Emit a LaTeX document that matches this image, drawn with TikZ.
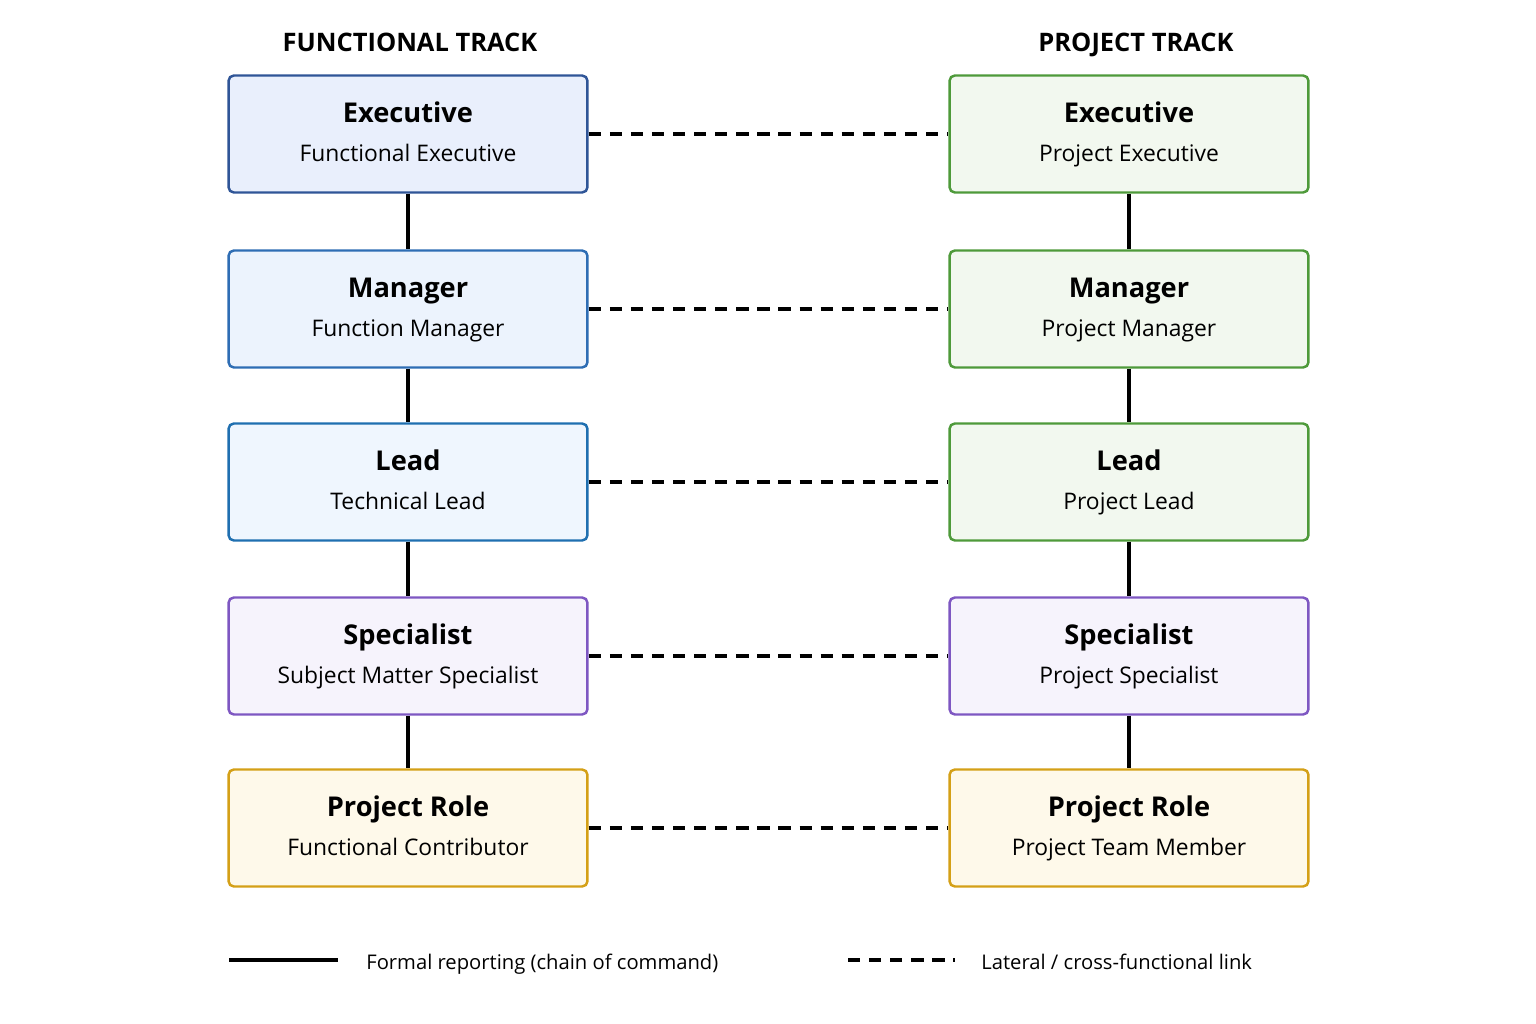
\documentclass[tikz,border=0pt]{standalone}
\usepackage{fontspec}
\setmainfont{Open Sans}
\usetikzlibrary{positioning}
\definecolor{exB}{HTML}{2F5597}\definecolor{exF}{HTML}{E9EFFC}
\definecolor{mgB}{HTML}{2E6DB4}\definecolor{mgF}{HTML}{ECF3FD}
\definecolor{ldB}{HTML}{1F6FB0}\definecolor{ldF}{HTML}{EFF6FE}
\definecolor{spB}{HTML}{7E57C2}\definecolor{spF}{HTML}{F6F3FC}
\definecolor{prB}{HTML}{D4A017}\definecolor{prF}{HTML}{FEF9EA}
\definecolor{gnB}{HTML}{4E9A3A}\definecolor{gnF}{HTML}{F2F8EF}
\tikzset{
  role/.style={draw=#1B, fill=#1F, line width=1.4pt, rounded corners=3pt,
    minimum width=7.18cm, minimum height=2.34cm, align=center, inner sep=0pt},
  report/.style={line width=2pt},
  lateral/.style={line width=1.8pt, dash pattern=on 7pt off 5pt},
  track/.style={font=\fontsize{14.5}{18}\selectfont\bfseries, anchor=base},
  legend/.style={inner sep=0pt, anchor=base west, font=\fontsize{11.5}{14}\selectfont}
}
\newcommand{\rolebox}[2]{{\fontsize{15.5}{20}\selectfont\bfseries\strut #1}\\[4pt]{\fontsize{13}{16}\selectfont\strut #2}}
\begin{document}
\begin{tikzpicture}[x=0.02cm,y=-0.02cm]
  \useasboundingbox (0,0) rectangle (1536,1024);
  \node[track] (fhead) at (410,52) {FUNCTIONAL TRACK};
  \node[track] (phead) at (1136,52) {PROJECT TRACK};

  % functional track
  \node[role=ex] (fex) at (408,134) {\rolebox{Executive}{Functional Executive}};
  \node[role=mg] (fmg) at (408,309) {\rolebox{Manager}{Function Manager}};
  \node[role=ld] (fld) at (408,482) {\rolebox{Lead}{Technical Lead}};
  \node[role=sp] (fsp) at (408,656) {\rolebox{Specialist}{Subject Matter Specialist}};
  \node[role=pr] (fpr) at (408,828) {\rolebox{Project Role}{Functional Contributor}};

  % project track
  \node[role=gn] (pex) at (1129,134) {\rolebox{Executive}{Project Executive}};
  \node[role=gn] (pmg) at (1129,309) {\rolebox{Manager}{Project Manager}};
  \node[role=gn] (pld) at (1129,482) {\rolebox{Lead}{Project Lead}};
  \node[role=sp] (psp) at (1129,656) {\rolebox{Specialist}{Project Specialist}};
  \node[role=pr] (ppr) at (1129,828) {\rolebox{Project Role}{Project Team Member}};

  % reporting chains
  \draw[report] (fex) -- (fmg) (fmg) -- (fld) (fld) -- (fsp) (fsp) -- (fpr);
  \draw[report] (pex) -- (pmg) (pmg) -- (pld) (pld) -- (psp) (psp) -- (ppr);

  % lateral links
  \draw[lateral] (fex) -- (pex);
  \draw[lateral] (fmg) -- (pmg);
  \draw[lateral] (fld) -- (pld);
  \draw[lateral] (fsp) -- (psp);
  \draw[lateral] (fpr) -- (ppr);

  % legend
  \coordinate (ls1) at (229,960); \coordinate (ls2) at (338,960);
  \coordinate (ld1) at (848,960); \coordinate (ld2) at (955,960);
  \draw[report] (ls1) -- (ls2);
  \draw[lateral] (ld1) -- (ld2);
  \node[legend] (lstext) at (366,969) {Formal reporting (chain of command)};
  \node[legend] (ldtext) at (981,969) {Lateral / cross-functional link};
\end{tikzpicture}
\end{document}
